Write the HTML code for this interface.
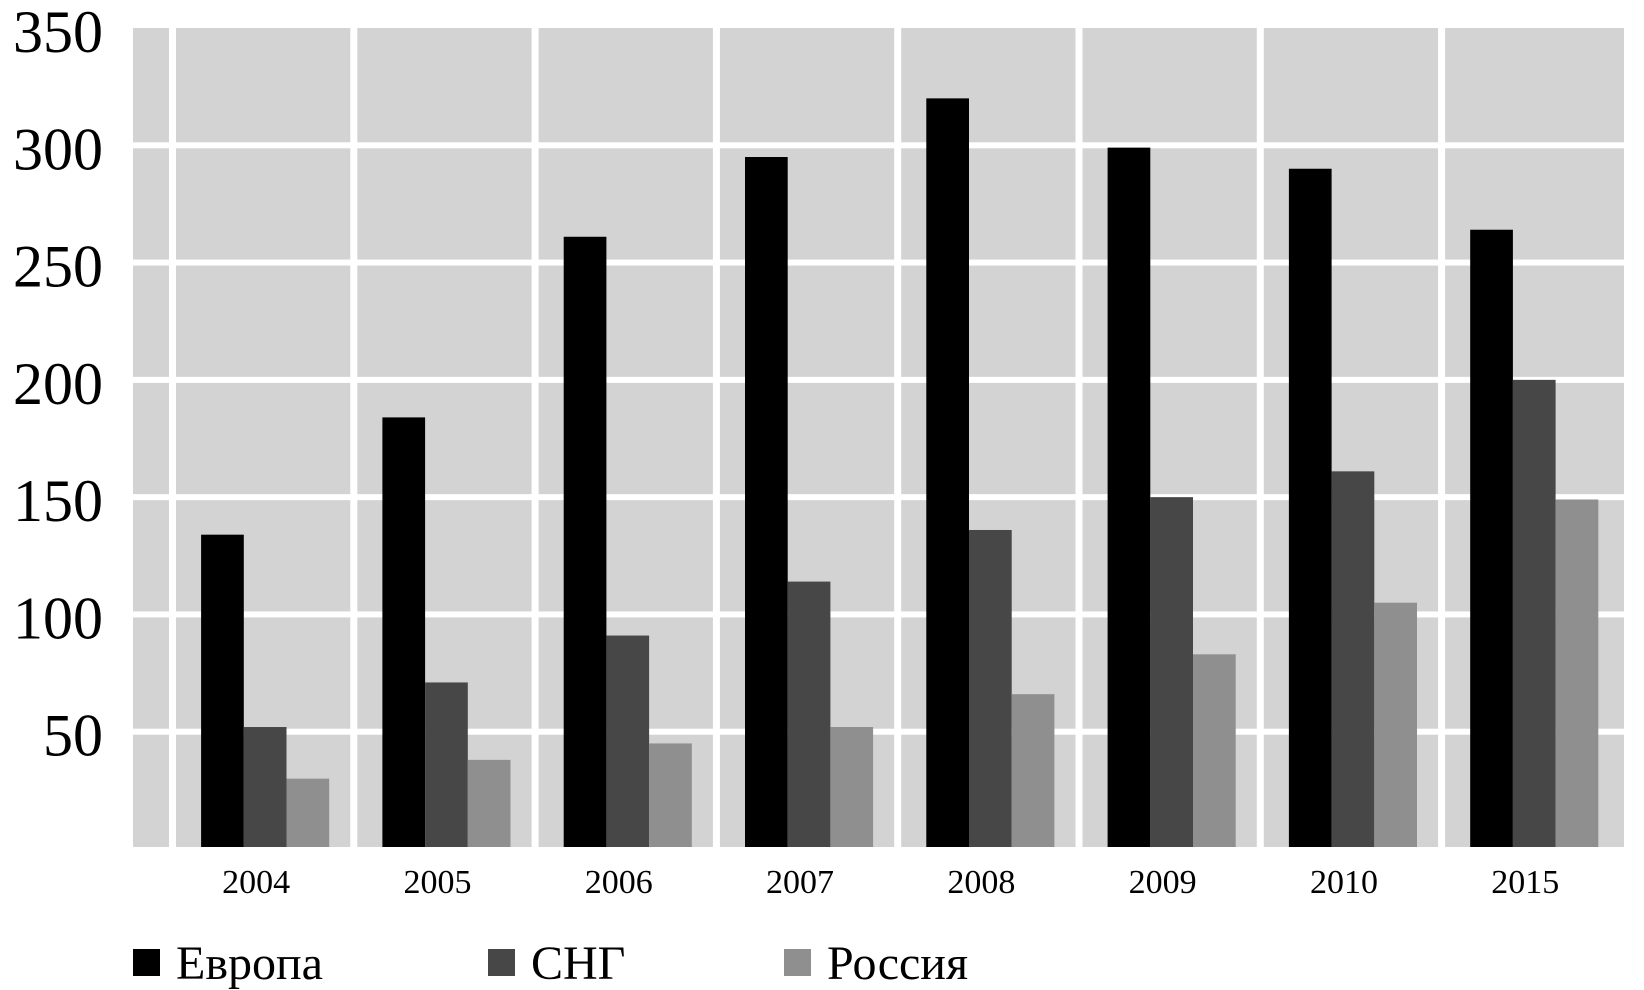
<!DOCTYPE html>
<html><head><meta charset="utf-8"><style>
html,body{margin:0;padding:0;background:#fff;width:1644px;height:990px;overflow:hidden}
svg{display:block;font-family:"Liberation Serif","Noto Serif CJK SC",serif}
</style></head><body>
<svg id="chart" width="1644" height="990" xmlns="http://www.w3.org/2000/svg"></svg>
<script>
const categories=["2004","2005","2006","2007","2008","2009","2010","2015"];
const europe=[134,184,261,295,320,299,290,264];
const cis=[52,71,91,114,136,150,161,200];
const russia=[30,38,45,52,66,83,105,149];
const yTicks=[50,100,150,200,250,300,350];
const seriesNames=["Европа","СНГ","Россия"];
const seriesColors=["#000000","#474747","#8f8f8f"];

const NS="http://www.w3.org/2000/svg";
const svg=document.getElementById('chart');
const plotL=133,plotR=1624,plotT=28,plotB=849;
const catStart=172.5,catW=181.3;
const yMin=0,yMax=350;
function y(v){return plotB-(v-yMin)/(yMax-yMin)*(plotB-plotT);}
function xc(i){return catStart+catW*(i+0.5)+2;}
function mk(tag,attrs){const e=document.createElementNS(NS,tag);for(const k in attrs)e.setAttribute(k,attrs[k]);svg.appendChild(e);return e;}

let bg=mk('rect',{x:plotL,y:plotT,width:plotR-plotL,height:847-plotT,fill:'#d3d3d3'});


yTicks.forEach(t=>{
  if(t>=yMax)return;
  let l=mk('rect',{x:plotL,y:y(t)-3,width:plotR-plotL,height:6,fill:'#fff'});
  
  
});
for(let i=0;i<categories.length;i++){
  let l=mk('rect',{x:catStart+catW*i-3.5,y:plotT,width:7,height:847-plotT,fill:'#fff'});
  
  
}
yTicks.forEach(t=>{
  let tx=mk('text',{x:103,y:y(t)+24,'font-size':60,'text-anchor':'end',fill:'#000'});
  tx.textContent=t;
  
  
});
const series=[europe,cis,russia];
const bw=42.7;
categories.forEach((c,i)=>{
  series.forEach((s,j)=>{
    const top=y(s[i]);
    let r=mk('rect',{x:xc(i)-1.5*bw+j*bw,y:top,width:bw,height:847-top,fill:seriesColors[j]});
    
    
  });
  let tx=mk('text',{x:xc(i)-9,y:893,'font-size':34,'text-anchor':'middle',fill:'#000'});
  tx.textContent=c;
  
  
});
const legX=[133,488,784];
seriesNames.forEach((n,j)=>{
  let sq=mk('rect',{x:legX[j],y:949,width:27,height:27,fill:seriesColors[j]});
  
  
  let tx=mk('text',{x:legX[j]+43,y:979,'font-size':48,fill:'#000'});
  tx.textContent=n;
  
  
});
</script>
</body></html>
